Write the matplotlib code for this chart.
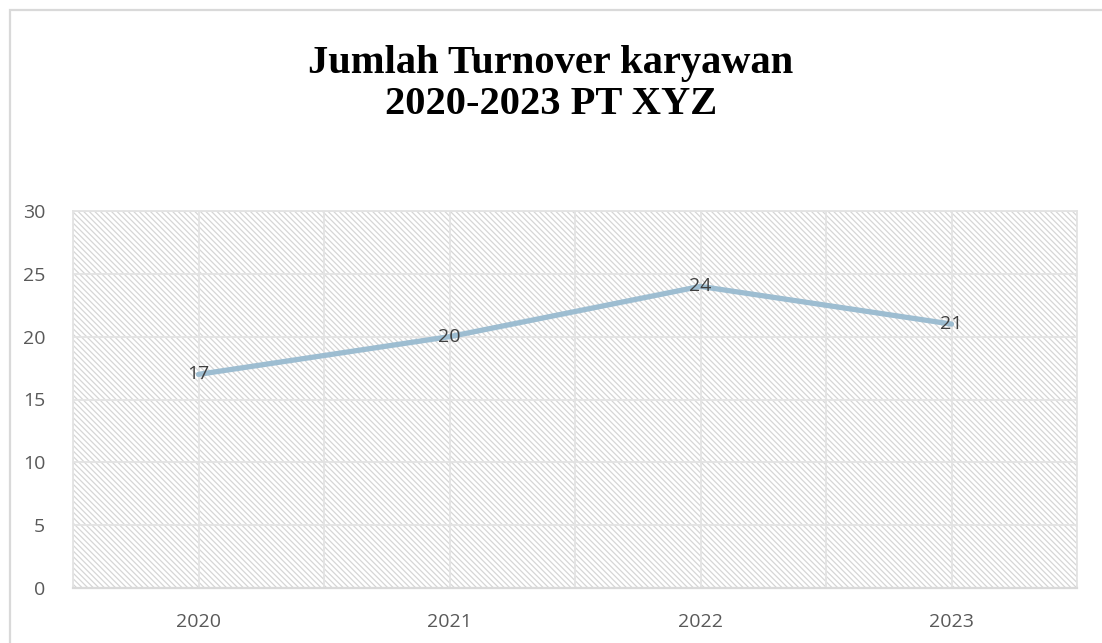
import matplotlib
matplotlib.use("Agg")
import matplotlib.pyplot as plt
from matplotlib.patches import Rectangle
import matplotlib as mpl

years = ["2020", "2021", "2022", "2023"]
turnover = [17, 20, 24, 21]
title = "Jumlah Turnover karyawan\n2020-2023 PT XYZ"

mpl.rcParams['hatch.color'] = '#d6d6d6'
mpl.rcParams['hatch.linewidth'] = 0.9

fig = plt.figure(figsize=(11.02, 6.43), dpi=100)
W, H = 1102, 643
# outer chart border
fig.patches.append(Rectangle((9.5 / W, -0.01), 1.05, (H - 10.5) / H + 0.01,
                             transform=fig.transFigure, fill=False,
                             edgecolor='#d9d9d9', linewidth=1.6))

ax = fig.add_axes([73 / W, (H - 588) / H, (1077 - 73) / W, (588 - 211) / H])
ax.set_xlim(-0.5, len(years) - 0.5)
ax.set_ylim(0, 30)

# hatched background
ax.add_patch(Rectangle((0, 0), 1, 1, transform=ax.transAxes, facecolor='white',
                       edgecolor='#d6d6d6', hatch='\\' * 6, linewidth=0, zorder=0))

x = list(range(len(years)))
ax.set_yticks(range(0, 31, 5))
ax.set_xticks(x)
ax.set_xticklabels(years)
ax.set_xticks([i - 0.5 for i in range(len(years) + 1)], minor=True)
ax.grid(True, which='major', color='#e3e3e3', linewidth=1.3, zorder=1)
ax.grid(True, which='minor', axis='x', color='#e3e3e3', linewidth=1.3, zorder=1)
ax.tick_params(which='both', length=0, labelsize=14, colors='#595959')
ax.tick_params(axis='y', pad=20)
ax.tick_params(axis='x', pad=18)
for lab in ax.get_xticklabels() + ax.get_yticklabels():
    lab.set_fontfamily('Open Sans')
for s in ['top', 'right', 'left']:
    ax.spines[s].set_color('#e3e3e3')
    ax.spines[s].set_linewidth(1.3)
ax.spines['bottom'].set_color('#d9d9d9')
ax.spines['bottom'].set_linewidth(1.6)

ax.plot(x, turnover, color='#9dbdd1', linewidth=3.8, solid_capstyle='round', zorder=3)
for xi, v in zip(x, turnover):
    ax.text(xi, v, str(v), ha='center', va='center', fontsize=14,
            family='Open Sans', color='#404040', zorder=4)

fig.text(551 / W, 1 - 84 / H, title, ha='center', va='center',
         family='Liberation Serif', fontweight='bold', fontsize=29.2,
         linespacing=1.15, color='black')

fig.savefig('out.png', dpi=100)
